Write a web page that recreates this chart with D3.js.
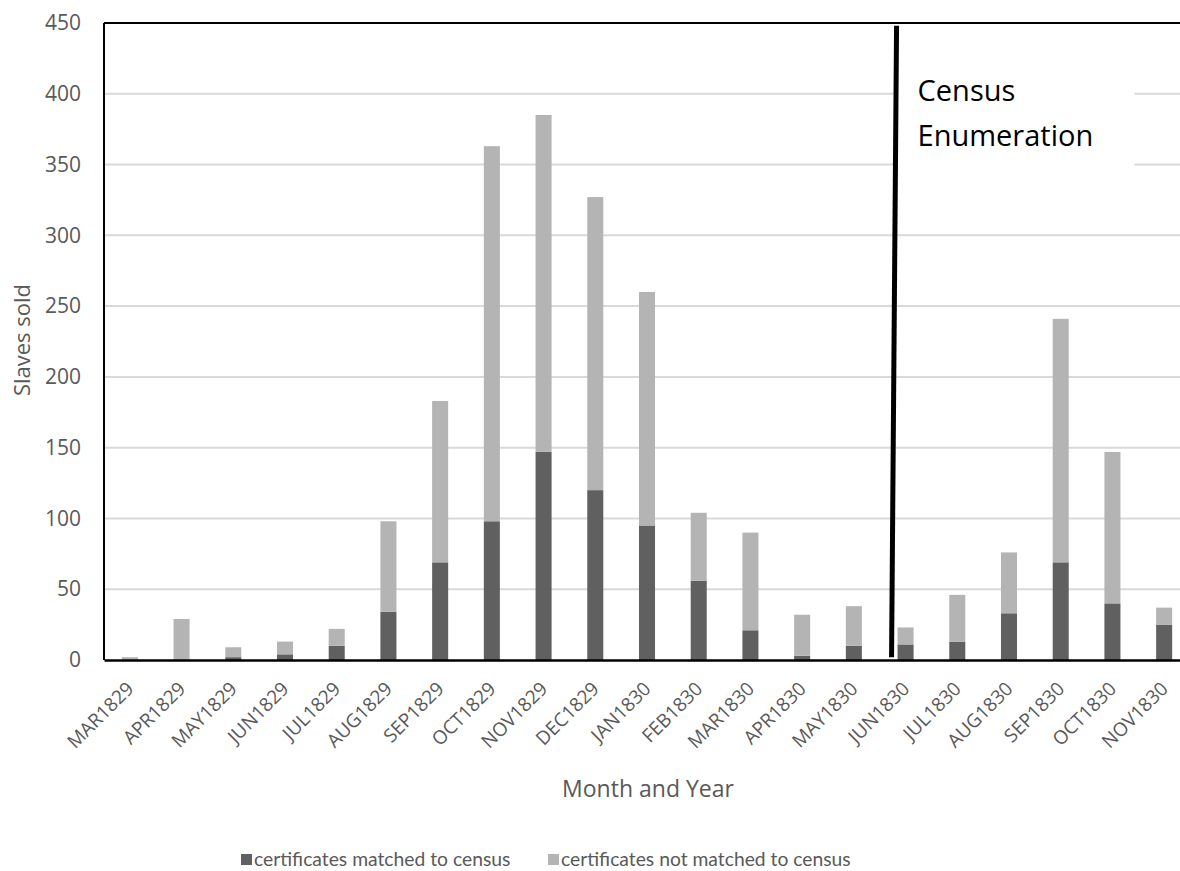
<!DOCTYPE html>
<html>
<head>
<meta charset="utf-8">
<script src="https://cdn.jsdelivr.net/npm/d3@7"></script>
<style>
  html, body { margin: 0; padding: 0; background: #fff; }
  svg { display: block; }
</style>
</head>
<body>
<svg id="chart" width="1180" height="871"></svg>
<script>
const categories = ["MAR1829","APR1829","MAY1829","JUN1829","JUL1829","AUG1829","SEP1829","OCT1829","NOV1829","DEC1829","JAN1830","FEB1830","MAR1830","APR1830","MAY1830","JUN1830","JUL1830","AUG1830","SEP1830","OCT1830","NOV1830"];
const matched =    [0, 0, 2, 4, 10, 34, 69, 98, 147, 120, 95, 56, 21, 3, 10, 11, 13, 33, 69, 40, 25];
const notMatched = [2, 29, 7, 9, 12, 64, 114, 265, 238, 207, 165, 48, 69, 29, 28, 12, 33, 43, 172, 107, 12];
const yTicks = [0, 50, 100, 150, 200, 250, 300, 350, 400, 450];
const seriesNames = ["certificates matched to census", "certificates not matched to census"];
const seriesColors = ["#606060", "#b4b4b4"];
const annotationLines = ["Census", "Enumeration"];
const annotationCategory = "JUN1830";

const svg = d3.select("#chart");
const W = 1180, H = 871;
// plot area runs slightly past the right edge of the picture (cropped)
const m = {left: 104, top: 23, bottom: 211};
const plotRight = 1190;
const ih = H - m.top - m.bottom;
const font = "'Open Sans', sans-serif";
const textColor = "#595959";

const x = d3.scaleBand().domain(categories).range([m.left, plotRight]).paddingInner(0.69).paddingOuter(0.345);
const y = d3.scaleLinear().domain([0, 450]).range([m.top + ih, m.top]);

// gridlines
svg.append("g").selectAll("line").data(yTicks.filter(t => t > 0 && t < 450)).join("line")
  .attr("x1", m.left).attr("x2", plotRight)
  .attr("y1", d => y(d)).attr("y2", d => y(d))
  .attr("stroke", "#d9d9d9").attr("stroke-width", 2);

// stacked data
const rows = categories.map((c, i) => ({cat: c, matched: matched[i], notMatched: notMatched[i]}));
const stack = d3.stack().keys(["matched", "notMatched"])(rows);

svg.append("g").selectAll("g").data(stack).join("g")
  .attr("fill", (d, i) => seriesColors[i])
  .selectAll("rect").data(d => d).join("rect")
  .attr("x", d => x(d.data.cat))
  .attr("width", x.bandwidth())
  .attr("y", d => y(d[1]))
  .attr("height", d => Math.max(0, y(d[0]) - y(d[1])));

// annotation background box + text
const bx = x(annotationCategory);
svg.append("rect")
  .attr("x", bx).attr("y", y(415)).attr("width", 237).attr("height", y(335) - y(415))
  .attr("fill", "#fff");
const at = svg.append("text").attr("font-family", font).attr("font-size", 29).attr("fill", "#000");
annotationLines.forEach((t, i) => {
  at.append("tspan").attr("x", bx + 20).attr("y", y(395) + i * 45).text(t);
});

// census line
svg.append("line")
  .attr("x1", bx - 1).attr("y1", y(448))
  .attr("x2", bx - 6).attr("y2", y(2))
  .attr("stroke", "#000").attr("stroke-width", 5);

// frame: top, left
svg.append("line").attr("x1", m.left).attr("x2", plotRight).attr("y1", m.top).attr("y2", m.top).attr("stroke", "#000").attr("stroke-width", 2);
svg.append("line").attr("x1", m.left).attr("x2", m.left).attr("y1", m.top).attr("y2", m.top + ih).attr("stroke", "#000").attr("stroke-width", 2);

// y axis
const yAxis = svg.append("g").attr("transform", `translate(${m.left},0)`)
  .call(d3.axisLeft(y).tickValues(yTicks).tickSize(0).tickPadding(23));
yAxis.select(".domain").remove();
yAxis.selectAll("text").attr("font-family", font).attr("font-size", 21).attr("fill", textColor);

// x axis
const xAxis = svg.append("g").attr("transform", `translate(0,${m.top + ih})`)
  .call(d3.axisBottom(x).tickSize(0).tickPadding(0));
xAxis.select(".domain").attr("stroke", "#000").attr("stroke-width", 2.5);
xAxis.selectAll("text")
  .attr("font-family", font).attr("font-size", 19).attr("fill", textColor)
  .attr("text-anchor", "end")
  .attr("y", 0).attr("dy", 0)
  .attr("transform", "translate(5,30) rotate(-45)");

// axis titles
svg.append("text").attr("x", 648).attr("y", 797).attr("text-anchor", "middle")
  .attr("font-family", font).attr("font-size", 23).attr("fill", textColor).text("Month and Year");
svg.append("text").attr("transform", "translate(30,340) rotate(-90)").attr("text-anchor", "middle")
  .attr("font-family", font).attr("font-size", 22).attr("fill", textColor).text("Slaves sold");

// legend
const legendX = [241, 548];
const lg = svg.append("g").selectAll("g").data(seriesNames).join("g")
  .attr("transform", (d, i) => `translate(${legendX[i]},866)`);
lg.append("rect").attr("x", 0).attr("y", -12).attr("width", 11).attr("height", 11).attr("fill", (d, i) => seriesColors[i]);
lg.append("text").attr("x", 13).attr("y", 0).attr("font-family", "Lato, sans-serif").attr("font-size", 19.3)
  .attr("fill", textColor).text(d => d);
</script>
</body>
</html>
